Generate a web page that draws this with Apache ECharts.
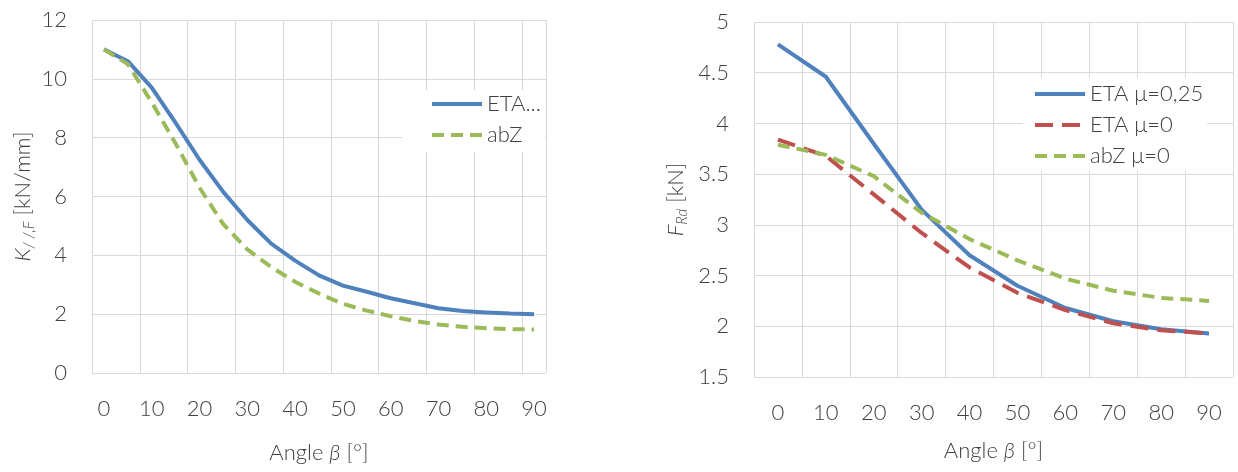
<!DOCTYPE html>
<html>
<head>
<meta charset="utf-8">
<script src="https://cdn.jsdelivr.net/npm/echarts@6/dist/echarts.min.js"></script>
<style>
  html, body { margin: 0; padding: 0; background: #fff; }
  #chart { width: 1238px; height: 472px; }
</style>
</head>
<body>
<div id="chart"></div>
<script>
// 左图：刚度 K 与角度
var angleK = ['0', '5', '10', '15', '20', '25', '30', '35', '40', '45', '50', '55', '60', '65', '70', '75', '80', '85', '90'];
var kEta = [11.0, 10.6, 9.7, 8.5, 7.25, 6.15, 5.2, 4.4, 3.82, 3.32, 2.97, 2.76, 2.54, 2.37, 2.2, 2.11, 2.06, 2.02, 2.0];
var kAbz = [11.0, 10.5, 9.2, 7.8, 6.3, 5.05, 4.2, 3.6, 3.1, 2.7, 2.35, 2.12, 1.93, 1.77, 1.65, 1.57, 1.52, 1.49, 1.48];

// 右图：承载力 F_Rd 与角度
var angleF = ['0', '10', '20', '30', '40', '50', '60', '70', '80', '90'];
var fEta025 = [4.78, 4.46, 3.8, 3.15, 2.7, 2.4, 2.18, 2.05, 1.97, 1.93];
var fEta0 = [3.84, 3.68, 3.3, 2.92, 2.58, 2.33, 2.16, 2.03, 1.96, 1.93];
var fAbz0 = [3.79, 3.69, 3.48, 3.12, 2.86, 2.65, 2.47, 2.35, 2.28, 2.25];

var seriesNames = ['ETA...', 'abZ', 'ETA μ=0,25', 'ETA μ=0', 'abZ μ=0'];

var FONT = 'Lato, "Open Sans", sans-serif';
var WEIGHT = 300;
var TXT = '#404040';
var LINE_GRID = '#d9d9d9';
var BLUE = '#4f81bd', RED = '#c0504d', GREEN = '#9bbb59';

var chart = echarts.init(document.getElementById('chart'));

var labelStyle = {
  color: TXT,
  fontSize: 22,
  fontFamily: FONT,
  fontWeight: WEIGHT,
  margin: 25
};

var nameStyle = {
  color: TXT,
  fontSize: 22,
  fontFamily: FONT,
  fontWeight: WEIGHT,
  lineHeight: 28,
  rich: {
    i: { fontStyle: 'italic', fontSize: 22, fontFamily: FONT, fontWeight: WEIGHT, color: TXT, lineHeight: 28 },
    s: { fontStyle: 'italic', fontSize: 15, fontFamily: FONT, fontWeight: WEIGHT, color: TXT, lineHeight: 15, verticalAlign: 'bottom' }
  }
};

var legendText = { color: TXT, fontSize: 22, fontFamily: FONT, fontWeight: WEIGHT, lineHeight: 26 };

function lineSeries(name, data, xi, color, dash) {
  return {
    name: name,
    type: 'line',
    xAxisIndex: xi,
    yAxisIndex: xi,
    data: data,
    symbol: 'none',
    smooth: false,
    color: color,
    lineStyle: { color: color, width: 4, type: dash, cap: 'butt', join: 'round' },
    emphasis: { disabled: true }
  };
}

var option = {
  animation: false,
  grid: [
    { left: 92, top: 20, width: 454, height: 361 },
    { left: 754, top: 22, width: 479, height: 355 }
  ],
  legend: [
    {
      orient: 'vertical',
      left: 402,
      top: 90,
      data: [seriesNames[0], seriesNames[1]],
      backgroundColor: '#fff',
      padding: [1, 4, 4, 28],
      itemWidth: 50,
      itemHeight: 14,
      itemGap: 5,
      itemStyle: { opacity: 0 },
      lineStyle: { width: 4 },
      textStyle: legendText
    },
    {
      orient: 'vertical',
      left: 1023,
      top: 78,
      data: [seriesNames[2], seriesNames[3], seriesNames[4]],
      backgroundColor: '#fff',
      padding: [3, 4, 2, 10],
      itemWidth: 50,
      itemHeight: 14,
      itemGap: 5,
      itemStyle: { opacity: 0 },
      lineStyle: { width: 4 },
      textStyle: legendText
    }
  ],
  xAxis: [
    {
      gridIndex: 0,
      type: 'category',
      data: angleK,
      boundaryGap: true,
      axisLine: { show: false },
      axisTick: { show: false },
      splitLine: { show: true, interval: 1, lineStyle: { color: LINE_GRID, width: 1 } },
      axisLabel: Object.assign({ interval: 1 }, labelStyle),
      name: 'Angle {i|β} [°]',
      nameLocation: 'middle',
      nameGap: 66,
      nameTextStyle: nameStyle
    },
    {
      gridIndex: 1,
      type: 'category',
      data: angleF,
      boundaryGap: true,
      axisLine: { show: false },
      axisTick: { show: false },
      splitLine: { show: true, interval: 0, lineStyle: { color: LINE_GRID, width: 1 } },
      axisLabel: Object.assign({ interval: 0 }, labelStyle),
      name: 'Angle {i|β} [°]',
      nameLocation: 'middle',
      nameGap: 60,
      nameTextStyle: nameStyle
    }
  ],
  yAxis: [
    {
      gridIndex: 0,
      type: 'value',
      min: 0,
      max: 12,
      interval: 2,
      axisLine: { show: false },
      axisTick: { show: false },
      splitLine: { lineStyle: { color: LINE_GRID, width: 1 } },
      axisLabel: labelStyle,
      name: '{i|K}{s|/ /,F} [kN/mm]',
      nameLocation: 'middle',
      nameGap: 55,
      nameTextStyle: nameStyle
    },
    {
      gridIndex: 1,
      type: 'value',
      min: 1.5,
      max: 5,
      interval: 0.5,
      axisLine: { show: false },
      axisTick: { show: false },
      splitLine: { lineStyle: { color: LINE_GRID, width: 1 } },
      axisLabel: labelStyle,
      name: '{i|F}{s|Rd} [kN]',
      nameLocation: 'middle',
      nameGap: 64,
      nameTextStyle: nameStyle
    }
  ],
  series: [
    lineSeries(seriesNames[0], kEta, 0, BLUE, 'solid'),
    lineSeries(seriesNames[1], kAbz, 0, GREEN, [12, 7]),
    lineSeries(seriesNames[2], fEta025, 1, BLUE, 'solid'),
    lineSeries(seriesNames[3], fEta0, 1, RED, [18, 9]),
    lineSeries(seriesNames[4], fAbz0, 1, GREEN, [12, 7])
  ]
};

chart.setOption(option);
window.addEventListener('resize', function () {
  chart.resize();
});
</script>
</body>
</html>
